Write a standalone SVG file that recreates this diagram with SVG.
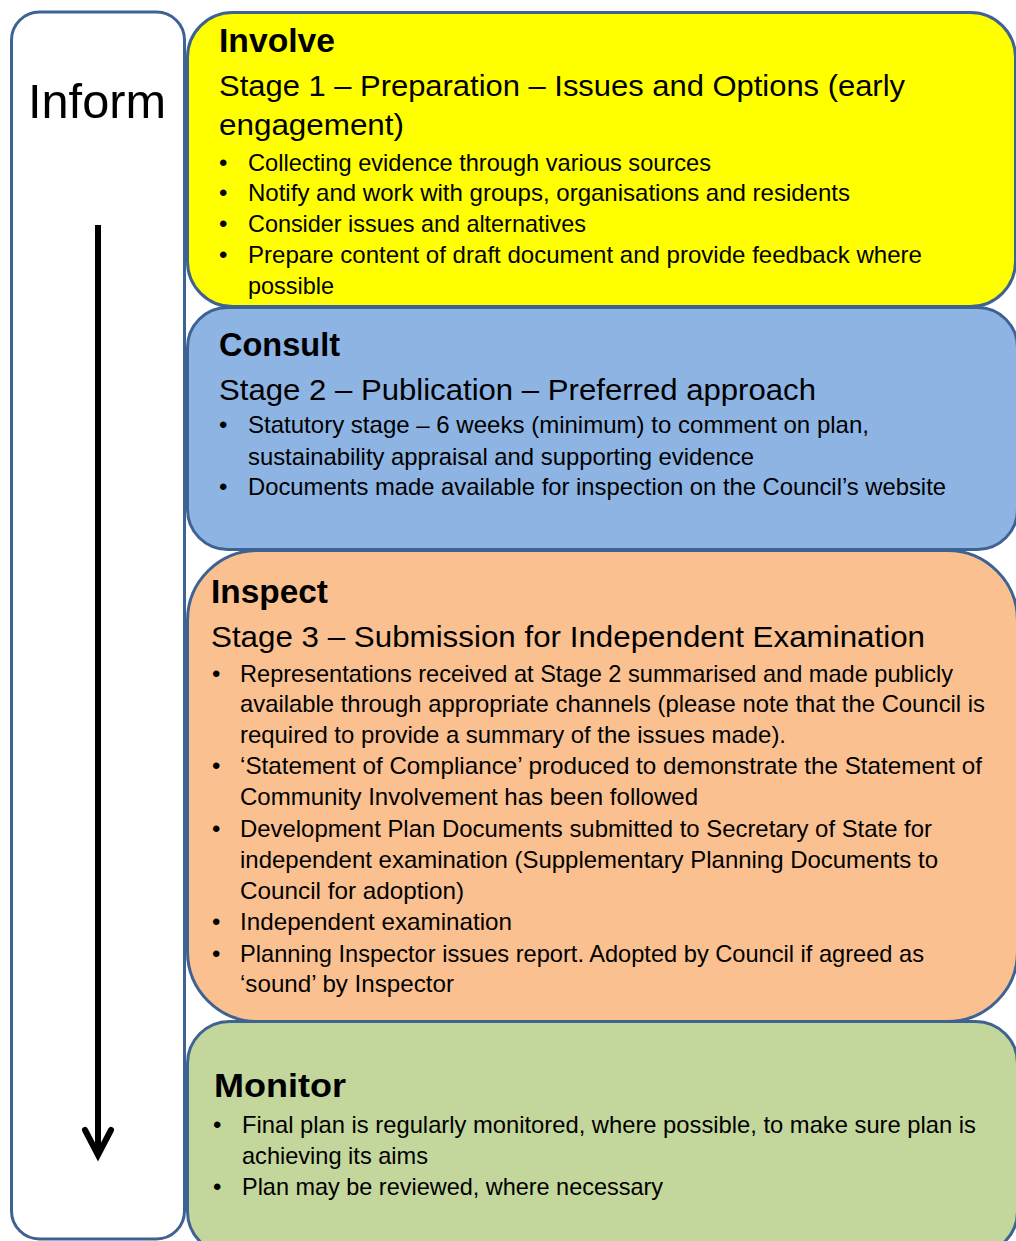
<svg xmlns="http://www.w3.org/2000/svg" width="1016" height="1241" viewBox="0 0 1016 1241">
<style>
.box{stroke:#3E6392;stroke-width:3}
text{font-family:"Liberation Sans",Arial,sans-serif;fill:#000}
.title{font-size:33px;font-weight:bold}
.stage{font-size:30px}
.b{font-size:24px}
.inform{font-size:48px}
</style>
<defs>
<marker id="chev" markerUnits="userSpaceOnUse" viewBox="-35 -20 45 40" refX="0" refY="0" markerWidth="45" markerHeight="40" orient="auto">
<path d="M-25,-13 L0,0 L-25,13" fill="none" stroke="#000" stroke-width="6" stroke-linecap="round" stroke-linejoin="miter"/>
</marker>
</defs>
<rect width="1016" height="1241" fill="#fff"/>

<g id="inform">
<rect class="box" x="11.5" y="12" width="173" height="1227" rx="28" fill="#fff"/>
<text class="inform" x="28" y="118" textLength="138" lengthAdjust="spacingAndGlyphs">Inform</text>
</g>

<g id="involve">
<rect class="box" x="187.5" y="12.5" width="828" height="294" rx="45" fill="#FFFF00"/>
<text class="title" x="219" y="52" textLength="116" lengthAdjust="spacingAndGlyphs">Involve</text>
<text class="stage" x="219" y="96" textLength="686" lengthAdjust="spacingAndGlyphs">Stage 1 – Preparation – Issues and Options (early</text>
<text class="stage" x="219" y="135" textLength="185" lengthAdjust="spacingAndGlyphs">engagement)</text>
<text class="b" x="219" y="171">•</text>
<text class="b" x="248" y="171" textLength="463" lengthAdjust="spacingAndGlyphs">Collecting evidence through various sources</text>
<text class="b" x="219" y="201">•</text>
<text class="b" x="248" y="201" textLength="602" lengthAdjust="spacingAndGlyphs">Notify and work with groups, organisations and residents</text>
<text class="b" x="219" y="232">•</text>
<text class="b" x="248" y="232" textLength="338" lengthAdjust="spacingAndGlyphs">Consider issues and alternatives</text>
<text class="b" x="219" y="263">•</text>
<text class="b" x="248" y="263" textLength="674" lengthAdjust="spacingAndGlyphs">Prepare content of draft document and provide feedback where</text>
<text class="b" x="248" y="294" textLength="86" lengthAdjust="spacingAndGlyphs">possible</text>
</g>

<g id="consult">
<rect class="box" x="187.5" y="307.5" width="830" height="242" rx="40" fill="#8EB4E3"/>
<text class="title" x="219" y="356" textLength="121" lengthAdjust="spacingAndGlyphs">Consult</text>
<text class="stage" x="219" y="400" textLength="597" lengthAdjust="spacingAndGlyphs">Stage 2 – Publication – Preferred approach</text>
<text class="b" x="219" y="433">•</text>
<text class="b" x="248" y="433" textLength="621" lengthAdjust="spacingAndGlyphs">Statutory stage – 6 weeks (minimum) to comment on plan,</text>
<text class="b" x="248" y="465" textLength="506" lengthAdjust="spacingAndGlyphs">sustainability appraisal and supporting evidence</text>
<text class="b" x="219" y="495">•</text>
<text class="b" x="248" y="495" textLength="698" lengthAdjust="spacingAndGlyphs">Documents made available for inspection on the Council’s website</text>
</g>

<g id="inspect">
<rect class="box" x="187.5" y="550.5" width="830" height="471" rx="70" fill="#FAC090"/>
<text class="title" x="211" y="603" textLength="117" lengthAdjust="spacingAndGlyphs">Inspect</text>
<text class="stage" x="211" y="647" textLength="714" lengthAdjust="spacingAndGlyphs">Stage 3 – Submission for Independent Examination</text>
<text class="b" x="212" y="682">•</text>
<text class="b" x="240" y="682" textLength="713" lengthAdjust="spacingAndGlyphs">Representations received at Stage 2 summarised and made publicly</text>
<text class="b" x="240" y="712" textLength="745" lengthAdjust="spacingAndGlyphs">available through appropriate channels (please note that the Council is</text>
<text class="b" x="240" y="743" textLength="546" lengthAdjust="spacingAndGlyphs">required to provide a summary of the issues made).</text>
<text class="b" x="212" y="774">•</text>
<text class="b" x="240" y="774" textLength="742" lengthAdjust="spacingAndGlyphs">‘Statement of Compliance’ produced to demonstrate the Statement of</text>
<text class="b" x="240" y="805" textLength="458" lengthAdjust="spacingAndGlyphs">Community Involvement has been followed</text>
<text class="b" x="212" y="837">•</text>
<text class="b" x="240" y="837" textLength="692" lengthAdjust="spacingAndGlyphs">Development Plan Documents submitted to Secretary of State for</text>
<text class="b" x="240" y="868" textLength="698" lengthAdjust="spacingAndGlyphs">independent examination (Supplementary Planning Documents to</text>
<text class="b" x="240" y="899" textLength="224" lengthAdjust="spacingAndGlyphs">Council for adoption)</text>
<text class="b" x="212" y="930">•</text>
<text class="b" x="240" y="930" textLength="272" lengthAdjust="spacingAndGlyphs">Independent examination</text>
<text class="b" x="212" y="962">•</text>
<text class="b" x="240" y="962" textLength="684" lengthAdjust="spacingAndGlyphs">Planning Inspector issues report. Adopted by Council if agreed as</text>
<text class="b" x="240" y="992" textLength="214" lengthAdjust="spacingAndGlyphs">‘sound’ by Inspector</text>
</g>

<g id="monitor">
<rect class="box" x="187.5" y="1021.5" width="830" height="232" rx="42" fill="#C3D69B"/>
<text class="title" x="214" y="1097" textLength="132" lengthAdjust="spacingAndGlyphs">Monitor</text>
<text class="b" x="213" y="1133">•</text>
<text class="b" x="242" y="1133" textLength="734" lengthAdjust="spacingAndGlyphs">Final plan is regularly monitored, where possible, to make sure plan is</text>
<text class="b" x="242" y="1164" textLength="186" lengthAdjust="spacingAndGlyphs">achieving its aims</text>
<text class="b" x="213" y="1195">•</text>
<text class="b" x="242" y="1195" textLength="421" lengthAdjust="spacingAndGlyphs">Plan may be reviewed, where necessary</text>
</g>

<g id="connectors">
<line x1="98" y1="225" x2="98" y2="1155" stroke="#000" stroke-width="6" marker-end="url(#chev)"/>
</g>
</svg>
